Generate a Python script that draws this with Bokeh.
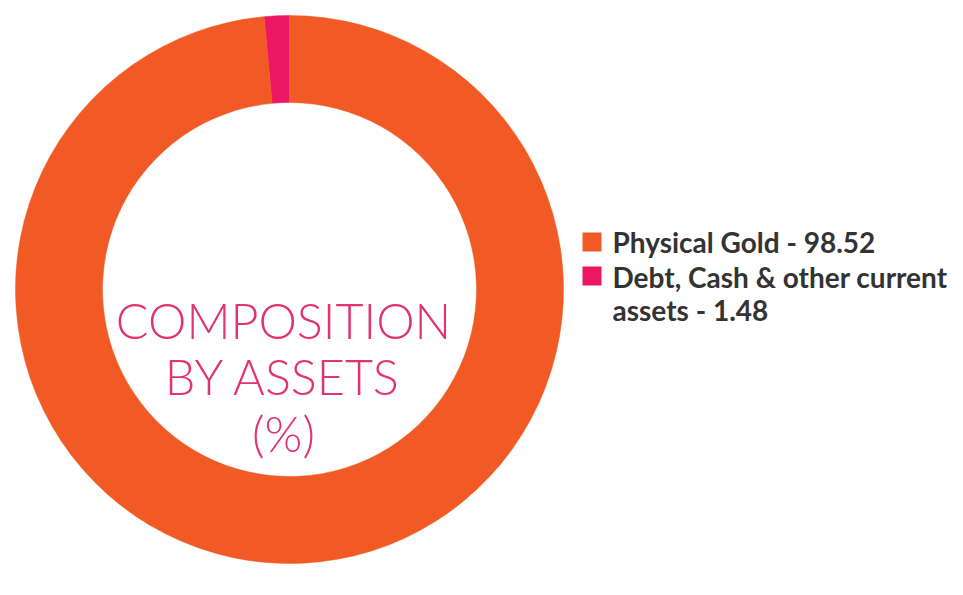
import numpy as np
from bokeh.plotting import figure
from bokeh.models import Range1d, ColumnDataSource
from bokeh.core.properties import value
from bokeh.embed import file_html
from bokeh.resources import INLINE

# ---- data ----
categories = ["Debt, Cash & other current assets", "Physical Gold"]
values = [1.48, 98.52]
colors = ["#EC1763", "#F15A25"]
legend_order = [1, 0]
legend_lines = [["Physical Gold - 98.52"],
                ["Debt, Cash & other current", "assets - 1.48"]]
center_lines = ["COMPOSITION", "BY ASSETS", "(%)"]

W, H = 947, 579
p = figure(width=W, height=H, output_backend="svg", toolbar_location=None,
           x_range=Range1d(0, W), y_range=Range1d(595 - H, 595),
           min_border=0)
p.axis.visible = False
p.grid.visible = False
p.outline_line_color = None
p.background_fill_color = "white"
p.border_fill_color = "white"

cx, cy = 289, 595 - 289
r_out, r_in = 274, 187

vals = np.array(values)
frac = vals / vals.sum()
ends = np.cumsum(frac) * 2 * np.pi + np.pi / 2
starts = ends - frac * 2 * np.pi
src = ColumnDataSource(dict(start=starts, end=ends, color=colors, cat=categories))
p.annular_wedge(x=cx, y=cy, inner_radius=r_in, outer_radius=r_out,
                start_angle="start", end_angle="end", direction="anticlock",
                fill_color="color", line_color="color", line_width=0.5, source=src)

# center title
base_y = [319, 375, 432]
p.text(x=[283] * 3, y=[595 - b for b in base_y], text=center_lines,
       text_align="center", text_baseline="alphabetic",
       text_font=value("Lato Light, Lato"), text_font_size="48.5px",
       text_color="#E2336B")

# legend
sq_tops = [232, 266]
line_base = [[241], [276, 309]]
for k, idx in enumerate(legend_order):
    t = sq_tops[k]
    p.rect(x=[591.5], y=[595 - (t + 9.5)], width=19, height=19,
           fill_color=colors[idx], line_color=None)
    for ln, b in zip(legend_lines[k], line_base[k]):
        p.text(x=[612], y=[595 - b], text=[ln], text_align="left",
               text_baseline="alphabetic", text_font=value("Lato"),
               text_font_style="bold", text_font_size="28px",
               text_color="#333333")

open("out.html", "w").write(file_html(p, INLINE))
